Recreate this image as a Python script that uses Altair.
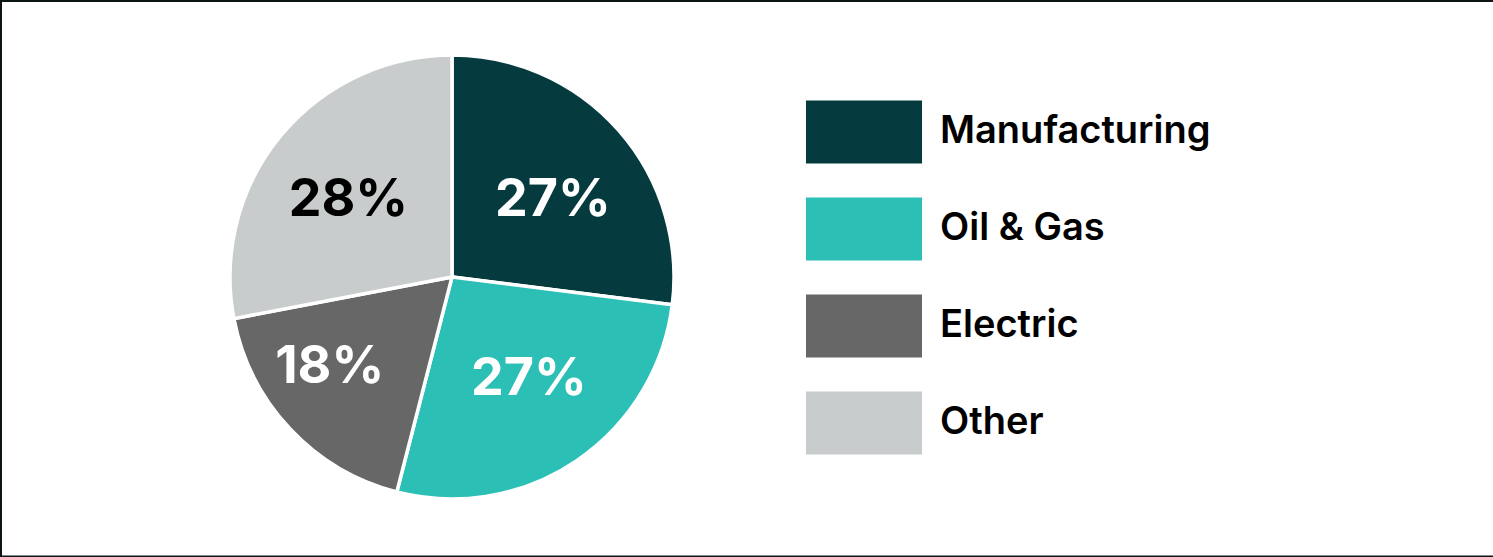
import altair as alt
import pandas as pd

categories = ["Manufacturing", "Oil & Gas", "Electric", "Other"]
shares = [27, 27, 18, 28]
labels = ["27%", "27%", "18%", "28%"]
colors = ["#053a3f", "#2bbfb6", "#676767", "#c9cccc"]
label_colors = ["#ffffff", "#ffffff", "#ffffff", "#000000"]

df = pd.DataFrame({
    "category": categories,
    "share": shares,
    "label": labels,
    "order": list(range(len(categories))),
    "lcolor": label_colors,
})

W, H = 1493, 557
CX, CY = 452, 277
R = 222

color_scale = alt.Scale(domain=categories, range=colors)

base = alt.Chart(df).encode(
    theta=alt.Theta("share:Q", stack=True),
    order=alt.Order("order:Q"),
)

arcs = base.mark_arc(
    radius=R, stroke="white", strokeWidth=3.5
).encode(
    x=alt.value(CX), y=alt.value(CY),
    color=alt.Color(
        "category:N", scale=color_scale, sort=categories,
        legend=alt.Legend(
            title=None, orient="none", legendX=806, legendY=74,
            symbolType="M-1,-0.543H1V0.543H-1Z", symbolSize=13456,
            symbolStrokeWidth=0, symbolOpacity=1,
            labelFont="Inter", labelFontSize=38, labelFontWeight=600,
            labelColor="#000000", labelOffset=18, rowPadding=7,
            labelLimit=500,
        ),
    ),
)

# label nudges per slice (styling only)
nudges = {"Manufacturing": (5, 8), "Oil & Gas": (5, -4), "Electric": (-29, 2), "Other": (-5, 5)}

text_layers = []
for cat, (ddx, ddy) in nudges.items():
    text_layers.append(
        base.mark_text(
            radius=128, font="Inter", fontSize=52, fontWeight=700, dx=ddx, dy=ddy
        ).encode(
            x=alt.value(CX), y=alt.value(CY),
            text="label:N",
            color=alt.Color("lcolor:N", scale=None),
            opacity=alt.condition(alt.datum.category == cat, alt.value(1), alt.value(0)),
        )
    )

frame_df = pd.DataFrame({"k": [0]})
top = alt.Chart(frame_df).mark_rule(color="#0d1614", strokeWidth=2).encode(
    x=alt.value(0), x2=alt.value(W), y=alt.value(1))
left = alt.Chart(frame_df).mark_rule(color="#0d1614", strokeWidth=2).encode(
    x=alt.value(1), y=alt.value(0), y2=alt.value(H))
bottom = alt.Chart(frame_df).mark_rule(color="#0d1614", strokeWidth=2).encode(
    x=alt.value(0), x2=alt.value(W), y=alt.value(H - 0.5))

chart = alt.layer(arcs, *text_layers, top, left, bottom).properties(
    width=W, height=H, padding=0,
    autosize=alt.AutoSizeParams(type="none"),
    background="white",
).configure_view(stroke=None)

chart.save("out.html", embed_options={"renderer": "svg", "actions": False})
